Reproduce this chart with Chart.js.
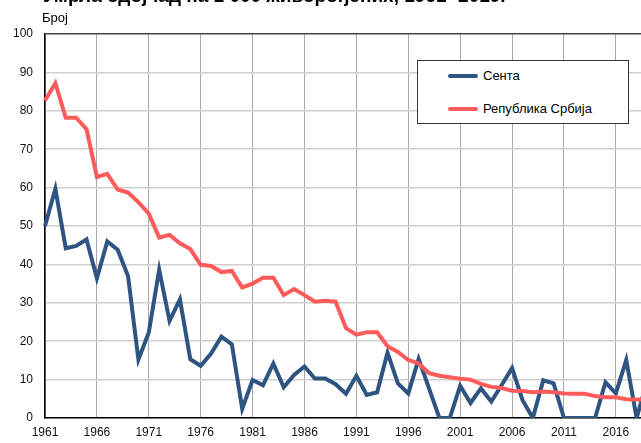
<!DOCTYPE html>
<html>
<head>
<meta charset="utf-8">
<script src="https://cdn.jsdelivr.net/npm/chart.js@4.4.0/dist/chart.umd.min.js"></script>
<style>
  html, body { margin: 0; padding: 0; background: #fff; overflow: hidden; width: 641px; height: 443px; }
  body { position: relative; font-family: "Liberation Sans", Arial, sans-serif; }
  #c { position: absolute; left: 0; top: 0; }
  #title { position: absolute; left: 43px; top: -15px; font-size: 19px; font-weight: bold; color: #000; white-space: nowrap; line-height: 22px; }
  #unit { position: absolute; left: 42px; top: 10px; font-size: 13px; color: #000; }
  #legend { position: absolute; left: 417px; top: 60px; width: 212px; height: 64px; background: #fff; border: 1px solid #333; box-sizing: border-box; font-size: 13px; color: #000; }
  .item { position: absolute; left: 30px; height: 16px; line-height: 16px; white-space: nowrap; }
  .swatch { display: inline-block; width: 30px; height: 4px; border-radius: 2px; vertical-align: middle; margin-right: 5px; position: relative; top: -1px; }
</style>
</head>
<body>
<canvas id="c" width="654" height="443"></canvas>
<div id="title">Умрла одојчад на 1 000 живорођених, 1961- 2019.</div>
<div id="unit">Број</div>
<div id="legend">
  <div class="item" style="top:7px"><span class="swatch" style="background:#2e5481"></span>Сента</div>
  <div class="item" style="top:40px"><span class="swatch" style="background:#ff5b5b"></span>Република Србија</div>
</div>
<script>
const years = [];
for (let y = 1961; y <= 2019; y++) years.push(String(y));

const senta = [
  50, 59.7, 44.2, 44.8, 46.5, 36.4, 46, 43.8, 37, 15.2,
  22.3, 38.6, 25.3, 30.9, 15.3, 13.6, 16.8, 21.2, 19.2, 2.4,
  9.9, 8.5, 14.2, 8, 11.2, 13.4, 10.3, 10.3, 8.8, 6.3,
  11, 6, 6.7, 17, 9, 6.4, 15.4, 7.7, 0, 0,
  8.4, 3.9, 7.7, 4.3, 8.6, 13, 4.7, 0, 9.8, 9,
  0, 0, 0, 0, 9.3, 6.4, 15.1, 0, 9.5
];
const serbia = [
  82.7, 87.2, 78.2, 78.2, 75.2, 62.8, 63.6, 59.5, 58.7, 56.2,
  53.2, 47, 47.7, 45.5, 44, 39.9, 39.6, 38, 38.3, 34,
  35, 36.5, 36.5, 32, 33.6, 32, 30.3, 30.5, 30.3, 23.4,
  21.7, 22.3, 22.3, 18.7, 17.2, 15.1, 14.2, 11.7, 11, 10.6,
  10.2, 10, 8.9, 8.1, 7.8, 7.1, 7, 6.7, 6.9, 6.7,
  6.4, 6.3, 6.3, 5.7, 5.4, 5.4, 4.9, 4.8, 4.8
];
const seriesNames = ["Сента", "Република Србија"];
const yTicks = [0, 10, 20, 30, 40, 50, 60, 70, 80, 90, 100];

new Chart(document.getElementById('c'), {
  type: 'line',
  data: {
    labels: years,
    datasets: [
      { label: seriesNames[1], data: serbia, borderColor: '#ff5b5b', borderWidth: 4, pointRadius: 0, tension: 0, fill: false },
      { label: seriesNames[0], data: senta, borderColor: '#2e5481', borderWidth: 4, pointRadius: 0, tension: 0, fill: false }
    ]
  },
  options: {
    responsive: false,
    animation: false,
    events: [],
    layout: { padding: { top: 34, right: 4, bottom: 0, left: 0 } },
    plugins: { legend: { display: false }, tooltip: { enabled: false }, title: { display: false } },
    scales: {
      x: {
        type: 'category',
        offset: false,
        afterFit: s => { s.height = 25; },
        grid: {
          drawTicks: false,
          color: ctx => (ctx.index % 5 === 0 ? '#a8a8a8' : 'rgba(0,0,0,0)'),
          lineWidth: 1
        },
        border: { color: '#000', width: 1.5 },
        ticks: {
          autoSkip: false,
          maxRotation: 0,
          minRotation: 0,
          padding: 7,
          color: '#111',
          font: { family: '"Liberation Sans", Arial, sans-serif', size: 12 },
          callback: function (val, idx) { return idx % 5 === 0 ? this.getLabelForValue(val) : ''; }
        }
      },
      y: {
        min: 0,
        max: 100,
        afterBuildTicks: s => { s.ticks = yTicks.map(v => ({ value: v })); },
        afterFit: s => { s.width = 45; },
        grid: {
          drawTicks: false,
          color: ctx => (ctx.tick && ctx.tick.value === 100 ? '#444' : '#cfcfcf'),
          lineWidth: 1.5
        },
        border: { color: '#000', width: 1.5 },
        ticks: {
          padding: 12,
          color: '#111',
          font: { family: '"Liberation Sans", Arial, sans-serif', size: 12 }
        }
      }
    }
  }
});
</script>
</body>
</html>
